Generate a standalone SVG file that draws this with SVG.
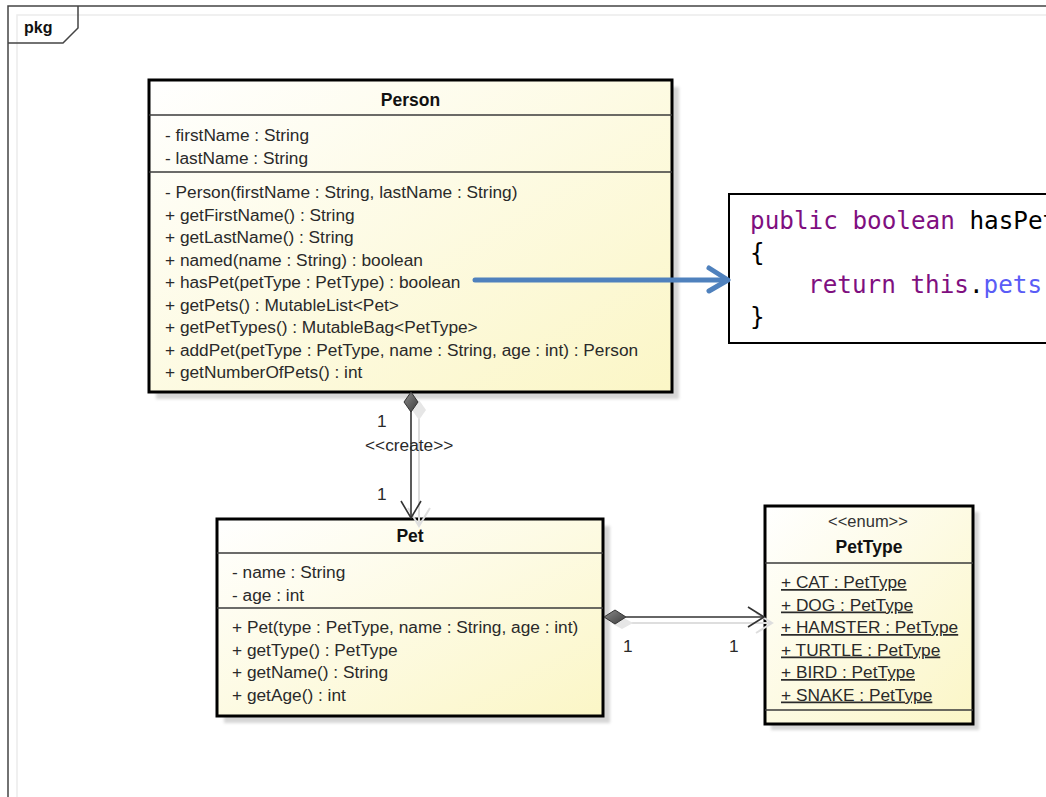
<svg xmlns="http://www.w3.org/2000/svg" width="1046" height="797" viewBox="0 0 1046 797">
  <defs>
    <linearGradient id="classFill" x1="0" y1="0" x2="1" y2="1">
      <stop offset="0" stop-color="#ffffff"/>
      <stop offset="1" stop-color="#fbf6c6"/>
    </linearGradient>
    <linearGradient id="diamondFill" x1="0" y1="0" x2="1" y2="1">
      <stop offset="0" stop-color="#8a8a8a"/>
      <stop offset="1" stop-color="#3c3c3c"/>
    </linearGradient>
    <filter id="soft" x="-10%" y="-10%" width="120%" height="120%">
      <feGaussianBlur stdDeviation="1.5"/>
    </filter>
  </defs>
  <style>
    .frame { fill: none; stroke: #444; stroke-width: 1.5; }
    .frameGhost { fill: none; stroke: #ececec; stroke-width: 1.5; }
    .box { fill: url(#classFill); stroke: #000; stroke-width: 3; }
    .shadow { fill: #d6d6d6; filter: url(#soft); }
    .sep { stroke: #3a3a3a; stroke-width: 1.5; }
    .t { font-family: "Liberation Sans", Arial, sans-serif; font-size: 17.3px; fill: #2a2a2a; }
    .name { font-family: "Liberation Sans", Arial, sans-serif; font-size: 17.5px; font-weight: bold; fill: #111; text-anchor: middle; }
    .stereo { font-family: "Liberation Sans", Arial, sans-serif; font-size: 16.5px; fill: #333; text-anchor: middle; }
    .u { text-decoration: underline; }
    .edge { fill: none; stroke: #333; stroke-width: 1.6; }
    .ghost { fill: none; stroke: #dedede; stroke-width: 2; }
    .diamond { fill: url(#diamondFill); stroke: #333; stroke-width: 1; }
    .code { font-family: "DejaVu Sans Mono", "Liberation Mono", monospace; font-size: 24.3px; fill: #000; }
    .kw { fill: #7f0f80; }
    .fld { fill: #5a5cf6; }
    .blue { fill: none; stroke: #4f81bd; stroke-width: 5; stroke-linecap: round; stroke-linejoin: round; }
  </style>

  <!-- package frame -->
  <g id="pkg-frame">
    <polyline class="frameGhost" points="17,797 17,15 1046,15"/>
    <polyline class="frame" points="8,797 8,6 1046,6"/>
    <polyline class="frame" points="8,43 63,43 78,28 78,6"/>
    <text x="24" y="33" font-family="Liberation Sans, Arial, sans-serif" font-size="16" font-weight="bold" fill="#111">pkg</text>
  </g>

  <!-- Person class -->
  <g id="node-person">
    <rect class="shadow" x="156" y="87" width="523" height="312"/>
    <rect class="box" x="149" y="80" width="523" height="312"/>
    <line class="sep" x1="149" y1="115" x2="672" y2="115"/>
    <line class="sep" x1="149" y1="172" x2="672" y2="172"/>
    <text class="name" x="410.5" y="106">Person</text>
    <text class="t" x="165" y="141">- firstName : String</text>
    <text class="t" x="165" y="163.5">- lastName : String</text>
    <text class="t" x="165" y="198">- Person(firstName : String, lastName : String)</text>
    <text class="t" x="165" y="220.5">+ getFirstName() : String</text>
    <text class="t" x="165" y="243">+ getLastName() : String</text>
    <text class="t" x="165" y="265.5">+ named(name : String) : boolean</text>
    <text class="t" x="165" y="288">+ hasPet(petType : PetType) : boolean</text>
    <text class="t" x="165" y="310.5">+ getPets() : MutableList&lt;Pet&gt;</text>
    <text class="t" x="165" y="333">+ getPetTypes() : MutableBag&lt;PetType&gt;</text>
    <text class="t" x="165" y="355.5">+ addPet(petType : PetType, name : String, age : int) : Person</text>
    <text class="t" x="165" y="378">+ getNumberOfPets() : int</text>
  </g>

  <!-- Pet class -->
  <g id="node-pet">
    <rect class="shadow" x="224" y="526" width="386" height="197"/>
    <rect class="box" x="217" y="519" width="386" height="197"/>
    <line class="sep" x1="217" y1="553" x2="603" y2="553"/>
    <line class="sep" x1="217" y1="608" x2="603" y2="608"/>
    <text class="name" x="410" y="542">Pet</text>
    <text class="t" x="232" y="578">- name : String</text>
    <text class="t" x="232" y="600.5">- age : int</text>
    <text class="t" x="232" y="633">+ Pet(type : PetType, name : String, age : int)</text>
    <text class="t" x="232" y="655.5">+ getType() : PetType</text>
    <text class="t" x="232" y="678">+ getName() : String</text>
    <text class="t" x="232" y="700.5">+ getAge() : int</text>
  </g>

  <!-- PetType enumeration -->
  <g id="node-pettype">
    <rect class="shadow" x="771" y="512" width="208" height="218"/>
    <rect class="box" x="765" y="506" width="208" height="218"/>
    <line class="sep" x1="765" y1="563" x2="973" y2="563"/>
    <line class="sep" x1="765" y1="710" x2="973" y2="710"/>
    <text class="stereo" x="868" y="527">&lt;&lt;enum&gt;&gt;</text>
    <text class="name" x="869" y="553">PetType</text>
    <text class="t u" x="781" y="588">+ CAT : PetType</text>
    <text class="t u" x="781" y="610.5">+ DOG : PetType</text>
    <text class="t u" x="781" y="633">+ HAMSTER : PetType</text>
    <text class="t u" x="781" y="655.5">+ TURTLE : PetType</text>
    <text class="t u" x="781" y="678">+ BIRD : PetType</text>
    <text class="t u" x="781" y="700.5">+ SNAKE : PetType</text>
  </g>

  <!-- hasPet source snippet, running past the right edge -->
  <g id="node-code">
    <rect x="729" y="194" width="330" height="149" fill="#fff" stroke="#000" stroke-width="2"/>
    <text class="code" x="750" y="229"><tspan class="kw">public boolean</tspan> hasPet</text>
    <text class="code" x="750" y="261">{</text>
    <text class="code" x="808" y="293"><tspan class="kw">return this</tspan>.<tspan class="fld">pets</tspan></text>
    <text class="code" x="750" y="325">}</text>
  </g>

  <!-- connectors -->
  <g id="connectors">
    <!-- Person to Pet composition -->
    <polyline class="ghost" points="419,412 419,526"/>
    <polyline class="ghost" points="408,508 419,526 430,508"/>
    <polygon points="419,400 426,410 419,420 412,410" fill="#e6e6e6"/>
    <line class="edge" x1="411" y1="410" x2="411" y2="518"/>
    <polyline class="edge" points="401,501 411,518 421,501"/>
    <polygon class="diamond" points="411,392 418,402 411,412 404,402"/>
    <text class="t" x="377" y="427">1</text>
    <text class="t" x="365" y="451">&lt;&lt;create&gt;&gt;</text>
    <text class="t" x="377" y="500">1</text>

    <!-- Pet to PetType composition -->
    <polyline class="ghost" points="628,623 772,623"/>
    <polyline class="ghost" points="756,613 772,623 756,633"/>
    <polygon points="611,623 622,617 633,623 622,629" fill="#e6e6e6"/>
    <line class="edge" x1="626" y1="617" x2="764" y2="617"/>
    <polyline class="edge" points="748,607 764,617 748,627"/>
    <polygon class="diamond" points="604,617 615,610 626,617 615,624"/>
    <text class="t" x="623" y="652">1</text>
    <text class="t" x="729" y="652">1</text>

    <!-- note link from hasPet to its code -->
    <line class="blue" x1="475" y1="280" x2="724" y2="280"/>
    <polyline class="blue" points="709,268 728,280 709,291"/>
  </g>
</svg>
